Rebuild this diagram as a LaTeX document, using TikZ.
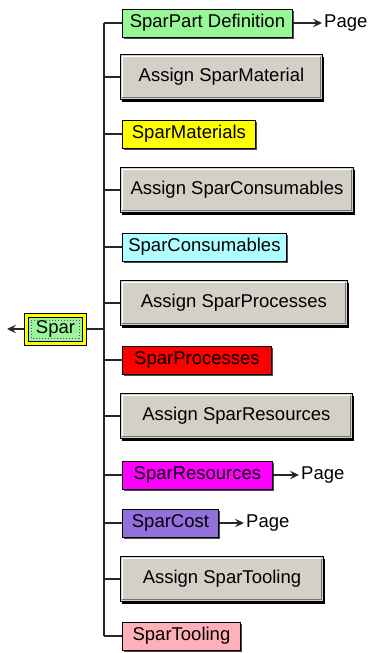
\documentclass[tikz,border=0pt]{standalone}
\usepackage{fontspec}
\setmainfont{Liberation Sans}
\usetikzlibrary{shadows,arrows.meta}
\definecolor{cgreen}{HTML}{98F898}
\definecolor{cyellow}{HTML}{FFFF00}
\definecolor{ccyan}{HTML}{B0FFFF}
\definecolor{cred}{HTML}{FF0000}
\definecolor{cmag}{HTML}{FF00FF}
\definecolor{cpurp}{HTML}{9370DB}
\definecolor{cpink}{HTML}{FFB0B8}
\definecolor{cgray}{HTML}{D4D0C8}
\definecolor{cdots}{HTML}{A020C0}
\tikzset{
  base/.style={font=\fontsize{18.5}{21}\selectfont, anchor=west, inner ysep=0pt, inner xsep=2pt},
  cbox/.style={base, draw=black, line width=0.9pt, minimum height=28pt,
     drop shadow={shadow xshift=2pt, shadow yshift=-2pt, fill=black!70, opacity=1}},
  abox/.style={base, draw=black, line width=0.9pt, fill=cgray, minimum height=45pt,
     drop shadow={shadow xshift=2pt, shadow yshift=-2pt, fill=black, opacity=1},
     path picture={
       \draw[white, line width=1.5pt] ([xshift=2pt,yshift=2pt]path picture bounding box.south west) |- ([xshift=-2pt,yshift=-2pt]path picture bounding box.north east);
       \draw[black!55, line width=1.5pt] ([xshift=2pt,yshift=2pt]path picture bounding box.south west) -| ([xshift=-2pt,yshift=-2pt]path picture bounding box.north east);
     }},
  conn/.style={line width=1.3pt, black!85},
  parr/.style={conn, -{Stealth[length=9pt,width=8.5pt,inset=3.5pt]}},
  pagelbl/.style={base, inner xsep=2pt},
}
\begin{document}
\begin{tikzpicture}[x=1pt,y=-1pt]
\useasboundingbox (0,0) rectangle (369,653);
\coordinate (tr) at (104,0);
\node[cbox, fill=cgreen, minimum width=170pt] (n1) at (122,23) {SparPart Definition};
\node[abox, minimum width=202pt] (n2) at (120,77) {Assign SparMaterial};
\node[cbox, fill=cyellow, minimum width=133pt] (n3) at (122,134) {SparMaterials};
\node[abox, minimum width=233pt] (n4) at (120,190) {Assign SparConsumables};
\node[cbox, fill=ccyan, minimum width=164pt] (n5) at (122,247) {SparConsumables};
\node[abox, minimum width=227pt] (n6) at (120,303) {Assign SparProcesses};
\node[cbox, fill=cred, minimum width=149pt] (n7) at (122,360) {SparProcesses};
\node[abox, minimum width=232pt] (n8) at (120,416) {Assign SparResources};
\node[cbox, fill=cmag, minimum width=150pt] (n9) at (122,475) {SparResources};
\node[cbox, fill=cpurp, minimum width=96pt] (n10) at (122,523) {SparCost};
\node[abox, minimum width=203pt] (n11) at (120,579) {Assign SparTooling};
\node[cbox, fill=cpink, minimum width=118pt] (n12) at (122,636) {SparTooling};

\node[base, draw=black, line width=0.9pt, fill=cyellow, minimum width=62pt, minimum height=32pt,
  path picture={
    \fill[cgreen] ([xshift=4pt,yshift=4pt]path picture bounding box.south west) rectangle ([xshift=-4pt,yshift=-4pt]path picture bounding box.north east);
    \draw[black, line width=0.8pt] ([xshift=4pt,yshift=4pt]path picture bounding box.south west) rectangle ([xshift=-4pt,yshift=-4pt]path picture bounding box.north east);
    \draw[cdots, line width=1pt, dotted] ([xshift=7pt,yshift=7pt]path picture bounding box.south west) rectangle ([xshift=-7pt,yshift=-7pt]path picture bounding box.north east);
  }] (spar) at (24,329) {Spar};
\coordinate (sl) at (7,329);
\draw[parr] (spar.west) -- (sl);

\foreach \n in {n1,n2,n3,n4,n5,n6,n7,n8,n9,n10,n11,n12}
  \draw[conn] (\n.west) -- (\n.west -| tr);
\draw[conn] (n1.west -| tr) -- (n12.west -| tr);
\draw[conn] (spar.east) -- (spar.east -| tr);

\node[pagelbl] (p1) at (322,23) {Page};
\draw[parr] (n1.east) -- (p1.west);
\node[pagelbl] (p2) at (299,475) {Page};
\draw[parr] (n9.east) -- (p2.west);
\node[pagelbl] (p3) at (244,523) {Page};
\draw[parr] (n10.east) -- (p3.west);
\end{tikzpicture}
\end{document}
